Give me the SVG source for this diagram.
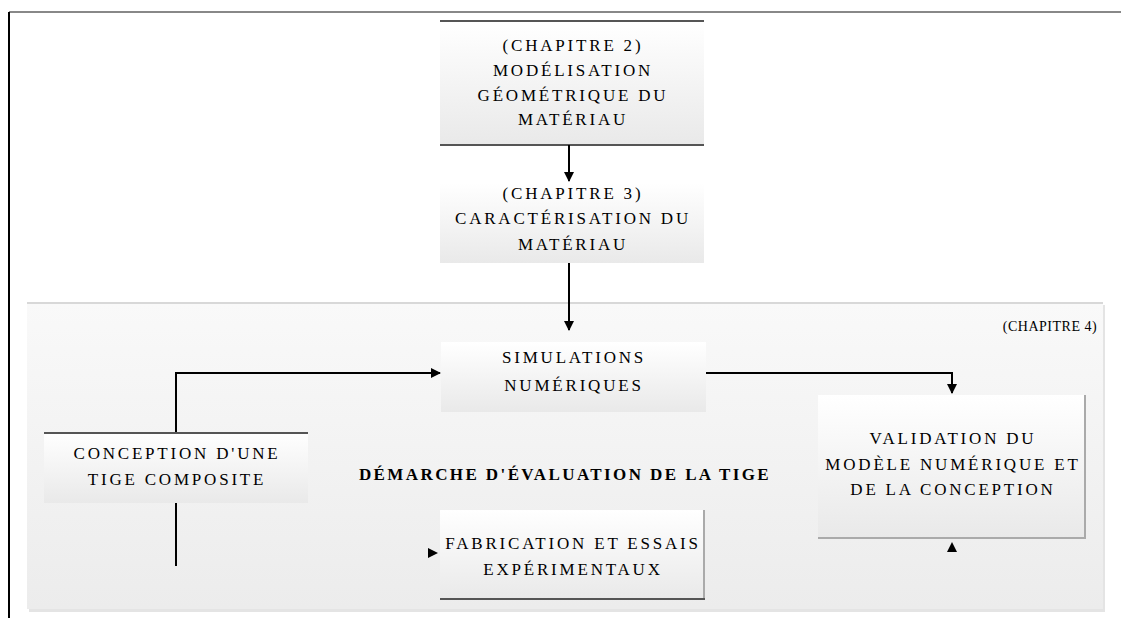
<svg xmlns="http://www.w3.org/2000/svg" width="1121" height="618" viewBox="0 0 1121 618">
<defs>
<linearGradient id="gBox" x1="0" y1="0" x2="0" y2="1"><stop offset="0" stop-color="#ffffff"/><stop offset="1" stop-color="#e9e9e9"/></linearGradient>
<linearGradient id="gCont" x1="0" y1="0" x2="0" y2="1"><stop offset="0" stop-color="#f9f9f9"/><stop offset="1" stop-color="#ececec"/></linearGradient>
<marker id="ah" markerWidth="10" markerHeight="10" refX="9" refY="5" orient="auto" markerUnits="userSpaceOnUse"><path d="M0,0 L10,5 L0,10 z" fill="#000"/></marker>
</defs>
<style>
.t{font-family:"Liberation Serif","Times New Roman",serif;font-size:17px;letter-spacing:2.8px;fill:#000;text-anchor:middle}
.b{font-family:"Liberation Serif","Times New Roman",serif;font-size:17px;letter-spacing:2.4px;font-weight:bold;fill:#000;text-anchor:middle}
.box{fill:url(#gBox)}
.edge{stroke:#555;stroke-width:2}
.sh{stroke:#aaa;stroke-width:2}
.c{fill:none;stroke:#000;stroke-width:2}
</style>
<rect width="1121" height="618" fill="#fff"/>
<line x1="9" y1="12" x2="1121" y2="12" stroke="#888" stroke-width="2"/>
<line x1="9" y1="12" x2="9" y2="618" stroke="#000" stroke-width="2"/>

<g id="chapitre4">
<rect x="29" y="305" width="1076" height="307" fill="#e4e4e4"/>
<rect x="27" y="303" width="1076" height="306" fill="url(#gCont)"/>
<line x1="27" y1="303" x2="1103" y2="303" stroke="#d8d8d8" stroke-width="2"/>
<text class="t" x="1050" y="331" style="font-size:14px;letter-spacing:0.5px">(CHAPITRE 4)</text>
</g>

<g id="n1">
<rect class="box" x="440" y="21" width="264" height="124"/>
<line class="edge" x1="440" y1="21" x2="704" y2="21"/>
<line class="edge" x1="440" y1="145" x2="704" y2="145"/>
<text class="t" x="573" y="51">(CHAPITRE 2)</text>
<text class="t" x="573" y="76">MODÉLISATION</text>
<text class="t" x="573" y="101">GÉOMÉTRIQUE DU</text>
<text class="t" x="573" y="125">MATÉRIAU</text>
</g>

<g id="n2">
<rect class="box" x="440" y="183" width="264" height="80"/>
<text class="t" x="573" y="199">(CHAPITRE 3)</text>
<text class="t" x="573" y="224">CARACTÉRISATION DU</text>
<text class="t" x="573" y="250">MATÉRIAU</text>
</g>

<g id="n3">
<rect class="box" x="441" y="342" width="265" height="70"/>
<text class="t" x="574" y="363">SIMULATIONS</text>
<text class="t" x="574" y="391">NUMÉRIQUES</text>
</g>

<g id="n4">
<rect class="box" x="44" y="432" width="264" height="71"/>
<line class="edge" x1="44" y1="433" x2="308" y2="433"/>
<text class="t" x="177" y="459">CONCEPTION D'UNE</text>
<text class="t" x="177" y="485">TIGE COMPOSITE</text>
</g>

<g id="n5">
<rect class="box" x="440" y="510" width="264" height="89"/>
<line class="sh" x1="704" y1="510" x2="704" y2="599"/>
<line class="edge" x1="440" y1="599" x2="705" y2="599"/>
<text class="t" x="573" y="549">FABRICATION ET ESSAIS</text>
<text class="t" x="573" y="575">EXPÉRIMENTAUX</text>
</g>

<g id="n6">
<rect class="box" x="818" y="395" width="267" height="142"/>
<line class="sh" x1="1085" y1="395" x2="1085" y2="538"/>
<line class="sh" x1="818" y1="538" x2="1086" y2="538"/>
<text class="t" x="953" y="444">VALIDATION DU</text>
<text class="t" x="953" y="470">MODÈLE NUMÉRIQUE ET</text>
<text class="t" x="953" y="495">DE LA CONCEPTION</text>
</g>

<text class="b" x="565" y="480">DÉMARCHE D'ÉVALUATION DE LA TIGE</text>

<g id="connectors">
<path class="c" d="M569,145 V181" marker-end="url(#ah)"/>
<path class="c" d="M569,263 V330" marker-end="url(#ah)"/>
<path class="c" d="M176,432 V373 H440" marker-end="url(#ah)"/>
<path class="c" d="M706,373 H952 V393" marker-end="url(#ah)"/>
<path class="c" d="M176,503 V566"/>
<path d="M428,548 L438,553 L428,558 z" fill="#000"/>
<path d="M947,552 L952,542 L957,552 z" fill="#000"/>
</g>
</svg>
